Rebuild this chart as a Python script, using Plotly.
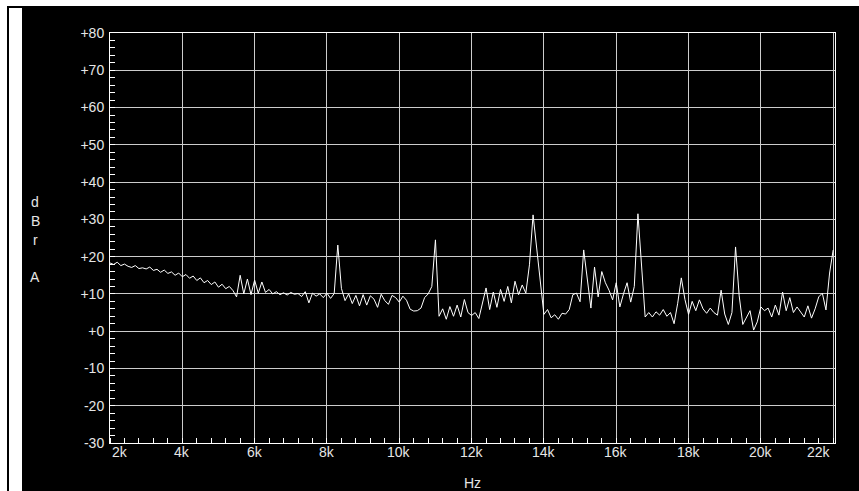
import numpy as np
import plotly.graph_objects as go

# Frequency bins (Hz), 100 Hz spacing, 2 kHz .. 22 kHz
freq_hz = np.round(np.arange(2000, 22001, 100)).astype(int)

# Level in dBr A (one row per kHz)
level_dbra = [
    18.3, 17.9, 18.5, 17.6, 18.0, 17.4, 17.1, 17.6, 16.8, 17.0,   # 2k
    16.7, 17.2, 16.3, 16.6, 15.8, 16.4, 15.5, 15.9, 15.0, 15.6,   # 3k
    14.6, 15.2, 14.2, 14.8, 13.6, 14.3, 13.0, 13.6, 12.5, 13.2,   # 4k
    11.8, 12.6, 11.4, 12.0, 10.9, 9.2, 15.0, 10.0, 14.0, 9.8,     # 5k
    13.7, 10.2, 13.2, 10.4, 11.2, 10.0, 10.6, 9.8, 10.3, 9.7,     # 6k
    10.4, 9.9, 10.1, 9.3, 10.6, 7.6, 10.2, 9.4, 10.0, 9.0,        # 7k
    10.2, 8.8, 10.1, 23.1, 11.5, 8.2, 10.0, 7.4, 9.6, 6.8,        # 8k
    9.8, 7.0, 9.5, 8.6, 6.4, 9.9, 8.2, 7.2, 9.6, 9.0,             # 9k
    7.8, 9.4, 8.3, 5.9, 5.4, 5.5, 6.2, 9.0, 10.0, 12.0,           # 10k
    24.5, 4.0, 6.0, 3.2, 6.6, 4.0, 7.0, 3.8, 8.5, 5.0,            # 11k
    4.2, 5.0, 3.4, 7.2, 11.6, 5.8, 10.5, 6.4, 11.2, 8.0,          # 12k
    12.0, 7.6, 13.4, 9.8, 12.4, 10.2, 17.8, 31.2, 22.6, 13.0,     # 13k
    4.5, 5.8, 3.6, 4.4, 3.2, 4.8, 4.6, 5.8, 9.8, 10.2,            # 14k
    7.9, 21.8, 13.7, 6.2, 17.2, 9.2, 16.0, 13.0, 11.0, 8.4,       # 15k
    13.0, 6.5, 10.0, 13.0, 7.8, 12.0, 31.5, 17.0, 3.8, 5.0,       # 16k
    3.8, 5.2, 4.3, 5.8, 4.0, 5.0, 2.0, 7.5, 14.3, 8.5,            # 17k
    4.5, 8.0, 5.5, 8.4, 6.0, 4.8, 6.2, 5.0, 4.3, 11.0,            # 18k
    4.6, 1.8, 5.0, 22.6, 9.5, 1.8, 3.6, 5.5, 0.3, 2.5,            # 19k
    6.5, 5.5, 6.2, 3.8, 7.0, 4.3, 10.5, 5.5, 9.0, 5.0,            # 20k
    6.5, 5.0, 3.8, 6.8, 3.5, 6.0, 9.2, 10.2, 5.7, 15.6,           # 21k
    21.8,                                                          # 22k
]

x_tick_vals = [2000, 4000, 6000, 8000, 10000, 12000, 14000, 16000, 18000, 20000, 22000]
x_tick_text = ["2k", "4k", "6k", "8k", "10k", "12k", "14k", "16k", "18k", "20k", "22k"]
y_tick_vals = [-30, -20, -10, 0, 10, 20, 30, 40, 50, 60, 70, 80]
y_tick_text = ["-30", "-20", "-10", "+0", "+10", "+20", "+30", "+40", "+50", "+60", "+70", "+80"]
y_title_letters = ["d", "B", "r", "A"]
x_title = "Hz"

W, H = 859, 491
ML, MR, MT, MB = 110, 24, 33, 48
PW, PH = W - ML - MR, H - MT - MB

def px(xp):
    return (xp - ML) / PW

def py(yp):
    return (H - MB - yp) / PH

FONT = "Liberation Sans, Arial, sans-serif"
TXT = "#e6e6e6"
GRID = "#cccccc"
FS = 14

fig = go.Figure()
fig.add_trace(go.Scatter(x=freq_hz, y=level_dbra, mode="lines",
                         line=dict(color="white", width=1), hoverinfo="skip",
                         showlegend=False))

shapes = [
    dict(type="rect", xref="paper", yref="paper", x0=px(0), x1=px(7), y0=py(H), y1=py(0),
         fillcolor="white", line=dict(width=0), layer="above"),
    dict(type="rect", xref="paper", yref="paper", x0=px(0), x1=px(W), y0=py(6), y1=py(0),
         fillcolor="white", line=dict(width=0), layer="above"),
    dict(type="rect", xref="paper", yref="paper", x0=px(9), x1=px(22), y0=py(H), y1=py(8),
         fillcolor="white", line=dict(width=0), layer="above"),
]

annotations = []
for i, (v, t) in enumerate(zip(x_tick_vals, x_tick_text)):
    anchor = "left" if i == 0 else ("right" if i == len(x_tick_vals) - 1 else "center")
    annotations.append(dict(x=v, y=0, xref="x", yref="paper", text=t, showarrow=False,
                            xanchor=anchor, yanchor="top", yshift=1,
                            font=dict(family=FONT, size=FS, color=TXT)))
annotations.append(dict(x=0.5, y=py(483), xref="paper", yref="paper", text=x_title,
                        showarrow=False, xanchor="center", yanchor="middle",
                        font=dict(family=FONT, size=FS, color=TXT)))
for letter, ypix in zip(y_title_letters, [202, 221, 240, 277]):
    annotations.append(dict(x=px(35), y=py(ypix), xref="paper", yref="paper", text=letter,
                            showarrow=False, xanchor="center", yanchor="middle",
                            font=dict(family=FONT, size=FS, color=TXT)))

fig.update_layout(
    width=W, height=H,
    margin=dict(l=ML, r=MR, t=MT, b=MB, pad=0),
    paper_bgcolor="black", plot_bgcolor="black",
    shapes=shapes, annotations=annotations,
    xaxis=dict(range=[2000, 22050], tickmode="array", tickvals=x_tick_vals,
               showticklabels=False, ticks="", showgrid=True, gridcolor=GRID, gridwidth=1,
               showline=True, linecolor="white", linewidth=1, mirror=True, zeroline=False,
               minor=dict(tickmode="linear", tick0=2000, dtick=400, ticks="inside",
                          ticklen=5, tickcolor="white", showgrid=False)),
    yaxis=dict(range=[-30, 80], tickmode="array", tickvals=y_tick_vals, ticktext=y_tick_text,
               ticks="inside", ticklen=5, tickcolor="white",
               showgrid=True, gridcolor=GRID, gridwidth=1,
               showline=True, linecolor="white", linewidth=1, mirror=True, zeroline=False,
               tickfont=dict(family=FONT, size=FS, color=TXT), ticklabelstandoff=2,
               minor=dict(tickmode="linear", tick0=-30, dtick=2, ticks="inside",
                          ticklen=5, tickcolor="white", showgrid=False)),
)

fig.write_html("out.html", config={"displayModeBar": False},
               post_script="document.body.style.margin='0';document.body.style.overflow='hidden';")
